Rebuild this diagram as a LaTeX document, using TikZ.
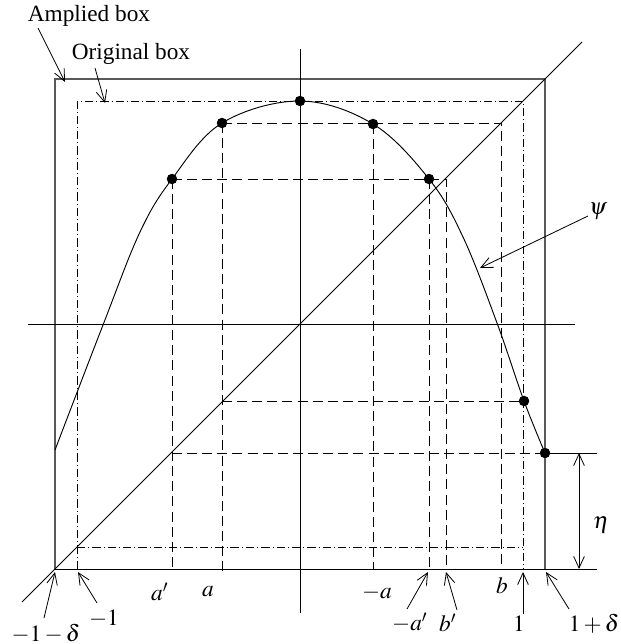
\documentclass[tikz,border=0pt]{standalone}
\usepackage{mathptmx}
\usepackage{fontspec}
\setmainfont{Liberation Serif}
\usetikzlibrary{arrows.meta}
\tikzset{
  ampbox/.style={draw=black!65, line width=0.55pt},
  origbox/.style={line width=0.35pt, dash pattern=on 3.6pt off 1.3pt on 0.4pt off 1.3pt},
  guide/.style={line width=0.35pt, dash pattern=on 4.3pt off 2.2pt},
  axis/.style={line width=0.38pt},
  dotnode/.style={circle, fill=black, inner sep=0pt, minimum size=4.4pt},
  lbl/.style={inner sep=0pt},
  pointer/.style={line width=0.35pt, -{Straight Barb[length=5pt,width=4.6pt]}},
  dbl/.style={line width=0.35pt, {Straight Barb[length=5pt,width=4.6pt]}-{Straight Barb[length=5pt,width=4.6pt]}}
}
\begin{document}
\begin{tikzpicture}[x=0.43pt, y=-0.43pt]
\useasboundingbox (0,0) rectangle (620,644);

% dots on the curve
\node[dotnode] (d1) at (172,179) {};
\node[dotnode] (d2) at (222,123) {};
\node[dotnode] (d3) at (300,101) {};
\node[dotnode] (d4) at (373,124) {};
\node[dotnode] (d5) at (429,179) {};
\node[dotnode] (d6) at (524,401) {};
\node[dotnode] (d7) at (545,453) {};

% amplified box
\coordinate (A1) at (55,569);
\coordinate (A2) at (55,79);
\coordinate (A3) at (545,79);
\coordinate (A4) at (545,569);
\draw[ampbox] (A1) -- (A2) -- (A3) -- (A4);
\coordinate (BR) at (597,569);
\draw[axis] (A1) -- (BR);

% original box
\coordinate (O1) at (77,569);
\coordinate (O2) at (77,101);
\coordinate (O3) at (523,101);
\coordinate (O4) at (523,569);
\coordinate (O5) at (77,547);
\coordinate (O6) at (523,547);
\draw[origbox] (O1) -- (O2) -- (O3) -- (O4);
\draw[origbox] (O5) -- (O6);

% axes and diagonal
\coordinate (HL) at (28,324);
\coordinate (HR) at (575,324);
\coordinate (VT) at (300,49);
\coordinate (VB) at (300,613);
\draw[axis] (HL) -- (HR);
\draw[axis] (VT) -- (VB);
\coordinate (DL) at (22,602);
\coordinate (DR) at (582,42);
\draw[axis] (DL) -- (DR);

% guide lines
\coordinate (g1) at (446,179);
\coordinate (g1b) at (446,569);
\coordinate (g2) at (501,123);
\coordinate (g2b) at (501,569);
\coordinate (ga1) at (172,569);
\coordinate (ga2) at (222,575);
\coordinate (ga3) at (373,569);
\coordinate (ga4) at (429,569);
\coordinate (h1) at (222,401);
\coordinate (h2) at (172,453);
\draw[guide] (d1.center) -- (g1) -- (g1b);
\draw[guide] (d1.center) -- (ga1);
\draw[guide] (d2.center) -- (g2) -- (g2b);
\draw[guide] (d2.center) -- (ga2);
\draw[guide] (d4.center) -- (ga3);
\draw[guide] (d5.center) -- (ga4);
\draw[guide] (h1) -- (d6.center);
\draw[guide] (h2) -- (d7.center);

% the curve psi
\draw[line width=0.4pt] plot[smooth, tension=0.6] coordinates {(55,450) (103,325) (140,232) (172,179) (222,123) (300,101) (373,124) (429,179) (463,237) (497,323) (524,401) (545,453)};

% redraw dots on top
\foreach \d in {d1,d2,d3,d4,d5,d6,d7} \fill (\d) circle (2.2pt);

% eta
\coordinate (E1) at (597,453);
\draw[axis] (d7.center) -- (E1);
\coordinate (ET) at (579,453);
\coordinate (EB) at (579,569);
\draw[dbl] (ET) -- (EB);
\node[lbl] (eta) at (601,525) {$\eta$};

% labels with pointers
\node[lbl] (amp) at (89,16) {Amplied box};
\coordinate (ampS) at (38,28);
\coordinate (ampT) at (65,82);
\draw[pointer] (ampS) -- (ampT);

\node[lbl] (orig) at (131,54) {Original box};
\coordinate (origS) at (95,68);
\coordinate (origT) at (105,103);
\draw[pointer] (origS) -- (origT);

\node[lbl] (psi) at (598,211) {$\psi$};
\coordinate (psiS) at (588,216);
\coordinate (psiT) at (480,268);
\draw[pointer] (psiS) -- (psiT);

\node[lbl] (mdl) at (46,634) {$-1-\delta$};
\coordinate (mdlS) at (44,618);
\coordinate (mdlT) at (55,572);
\draw[pointer] (mdlS) -- (mdlT);

\node[lbl] (mone) at (104,619) {$-1$};
\coordinate (moneS) at (97,603);
\coordinate (moneT) at (78,572);
\draw[pointer] (moneS) -- (moneT);

\node[lbl] (ap) at (160,592) {$a'$};
\node[lbl] (a) at (208,592) {$a$};
\node[lbl] (ma) at (377,593) {$-a$};
\node[lbl] (b) at (502,586) {$b$};

\node[lbl] (map) at (410,623) {$-a'$};
\coordinate (mapS) at (407,609);
\coordinate (mapT) at (428,572);
\draw[pointer] (mapS) -- (mapT);

\node[lbl] (bp) at (448,623) {$b'$};
\coordinate (bpS) at (457,610);
\coordinate (bpT) at (446,572);
\draw[pointer] (bpS) -- (bpT);

\node[lbl] (one) at (519,624) {$1$};
\coordinate (oneS) at (523,614);
\coordinate (oneT) at (523,572);
\draw[pointer] (oneS) -- (oneT);

\node[lbl] (opd) at (594,624) {$1+\delta$};
\coordinate (opdS) at (569,609);
\coordinate (opdT) at (546,572);
\draw[pointer] (opdS) -- (opdT);
\end{tikzpicture}
\end{document}
